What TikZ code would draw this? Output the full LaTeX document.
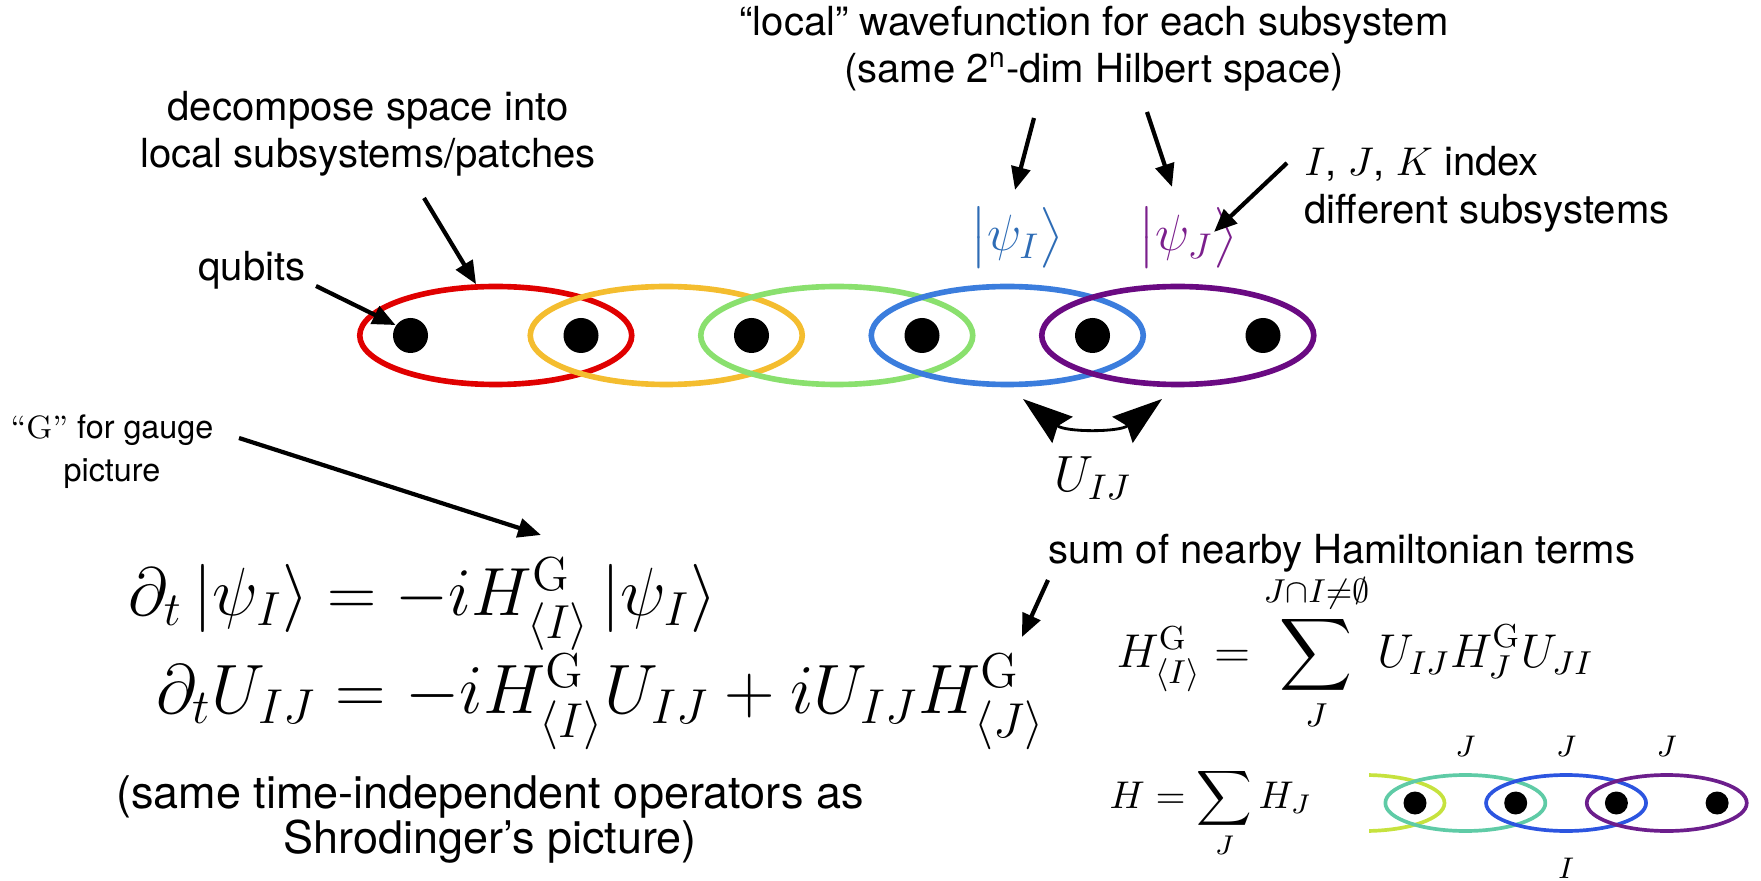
\RequirePackage{fix-cm}
\documentclass[tikz,border=0pt]{standalone}
\usepackage{amsmath}
\usepackage{fontspec}
\setsansfont{TeX Gyre Heros}
\usetikzlibrary{shapes.geometric,arrows.meta,positioning,calc}
\definecolor{ptRed}{HTML}{E00000}
\definecolor{ptYellow}{HTML}{F4BD2F}
\definecolor{ptGreen}{HTML}{8AE06E}
\definecolor{ptBlue}{HTML}{3B7DDD}
\definecolor{ptPurple}{HTML}{6A0A82}
\definecolor{ketBlue}{HTML}{2E6CB5}
\definecolor{ketPurple}{HTML}{7B1F8C}
\definecolor{mnLime}{HTML}{C6E23E}
\definecolor{mnTeal}{HTML}{5FCBA6}
\definecolor{mnBlue}{HTML}{2C55E0}
\definecolor{mnPurple}{HTML}{6C1E8C}
\tikzset{
  lbl/.style={font=\sffamily\fontsize{11.4}{13.5}\selectfont,align=center,inner sep=0pt},
  smalllbl/.style={font=\sffamily\fontsize{9.2}{12.2}\selectfont,align=center,inner sep=0pt},
  biglbl/.style={font=\sffamily\fontsize{12.8}{12.9}\selectfont,align=center,inner sep=0pt},
  eqn/.style={font=\fontsize{19.4}{23}\selectfont,inner sep=0pt,anchor=base west},
  eqnsmall/.style={font=\fontsize{13.5}{16}\selectfont,inner sep=0pt,anchor=base west},
  ket/.style={font=\fontsize{14.5}{17}\selectfont,inner sep=0pt},
  qubit/.style={circle,fill=black,minimum size=0.35cm,inner sep=0pt},
  patch/.style={ellipse,minimum width=2.72cm,minimum height=0.98cm,inner sep=0pt,line width=1.6pt},
  minidot/.style={circle,fill=black,minimum size=0.23cm,inner sep=0pt},
  minipatch/.style={ellipse,minimum width=1.6cm,minimum height=0.56cm,inner sep=0pt,line width=1.05pt},
  minilbl/.style={font=\fontsize{8.5}{10}\selectfont,inner sep=0pt},
  pointer/.style={line width=1.2pt,-{Triangle[length=2.3mm,width=1.9mm]}},
  swap/.style={line width=0.8pt,{Stealth[length=5mm,width=3.3mm,inset=0.6mm]}-{Stealth[length=5mm,width=3.3mm,inset=0.6mm]}},
}
\begin{document}
\begin{tikzpicture}
  \useasboundingbox (0,0) rectangle (17.61,-8.81);
  % chain of qubits and overlapping patches
  \foreach \i in {1,...,6}
    \node[qubit] (q\i) at ({4.105+1.705*(\i-1)},-3.355) {};
  \foreach \a/\b/\c in {1/2/ptRed,2/3/ptYellow,3/4/ptGreen,4/5/ptBlue,5/6/ptPurple}
    \node[patch,draw=\c] (p\a) at ($(q\a)!0.5!(q\b)$) {};

  \node[lbl] (decomp) at (3.68,-1.335) {decompose space into\\local subsystems/patches};
  \node[lbl] (qb) at (2.52,-2.70) {qubits};
  \coordinate (decTail) at (4.24,-1.98);
  \coordinate (qbTail) at (3.16,-2.86);
  \draw[pointer] (decTail) -- (p1.111);
  \draw[pointer] (qbTail) -- (q1.145);

  \node[lbl] (wave) at (10.94,-0.485) {``local'' wavefunction for each subsystem\\(same 2\textsuperscript{n}-dim Hilbert space)};
  \node[ket,text=ketBlue] (psiI) at (10.17,-2.38) {$\bigl|\psi_I\bigr\rangle$};
  \node[ket,text=ketPurple] (psiJ) at (11.88,-2.38) {$\bigl|\psi_J\bigr\rangle$};
  \coordinate (wfTailA) at (10.34,-1.18);
  \coordinate (wfTailB) at (11.47,-1.12);
  \draw[pointer] (wfTailA) -- ($(psiI.center)+(-0.02,0.48)$);
  \draw[pointer] (wfTailB) -- ($(psiJ.center)+(-0.16,0.51)$);

  \node[lbl,align=left,anchor=west,font=\sffamily\fontsize{11.4}{13.7}\selectfont] (idx) at (13.04,-1.89) {$I$, $J$, $K$ index\\different subsystems};
  \coordinate (idxTail) at (12.87,-1.63);
  \draw[pointer] (idxTail) -- ($(psiJ.center)+(0.26,0.06)$);

  \coordinate (uA) at (10.23,-3.99);
  \coordinate (uB) at (11.62,-3.99);
  \draw[swap] (uA) to[bend right=38] (uB);
  \node[ket] (uij) at (10.93,-4.78) {$U_{IJ}$};

  % equations of motion
  \node[smalllbl] (gauge) at (1.12,-4.515) {{\rmfamily``G''} for gauge\\picture};
  \node[eqn] (eqPsi) at (1.28,-6.15) {$\partial_t \left|\psi_I\right\rangle = -iH^{\mathrm{G}}_{\langle I\rangle}\left|\psi_I\right\rangle$};
  \node[eqn,font=\fontsize{19.9}{23}\selectfont] (eqU) at (1.56,-7.13) {$\partial_t U_{IJ} = -iH^{\mathrm{G}}_{\langle I\rangle}U_{IJ} + iU_{IJ}H^{\mathrm{G}}_{\langle J\rangle}$};
  \coordinate (gTail) at (2.39,-4.38);
  \coordinate (gTip) at (5.41,-5.35);
  \draw[pointer] (gTail) -- (gTip);
  \node[biglbl] (same) at (4.90,-8.195) {(same time-independent operators as\\Shrodinger’s picture)};

  \node[lbl] (nearby) at (13.42,-5.53) {sum of nearby Hamiltonian terms};
  \coordinate (sumTail) at (10.48,-5.80);
  \coordinate (sumTip) at (10.22,-6.37);
  \draw[pointer] (sumTail) -- (sumTip);
  \node[eqnsmall] (eqHI) at (11.16,-6.67) {$H^{\mathrm{G}}_{\langle I\rangle} = \displaystyle\sum_{J}^{J\cap I\neq\emptyset} U_{IJ}H^{\mathrm{G}}_{J}U_{JI}$};
  \node[eqnsmall,font=\fontsize{11}{13}\selectfont] (eqH) at (11.09,-8.08) {$H = \displaystyle\sum_{J} H_J$};

  % small chain
  \foreach \i in {1,...,4}
    \node[minidot] (m\i) at ({14.15+1.007*(\i-1)},-8.03) {};
  \begin{scope}
    \clip (13.69,-7.6) rectangle (14.7,-8.5);
    \node[minipatch,draw=mnLime] (m0) at (13.645,-8.03) {};
  \end{scope}
  \foreach \a/\b/\c in {1/2/mnTeal,2/3/mnBlue,3/4/mnPurple}
    \node[minipatch,draw=\c] (n\a) at ($(m\a)!0.5!(m\b)$) {};
  \foreach \a in {1,2,3}
    \node[minilbl,above=0.16cm of n\a] (jLbl\a) {$J$};
  \node[minilbl,below=0.25cm of n2] (iLbl) {$I$};
\end{tikzpicture}
\end{document}
